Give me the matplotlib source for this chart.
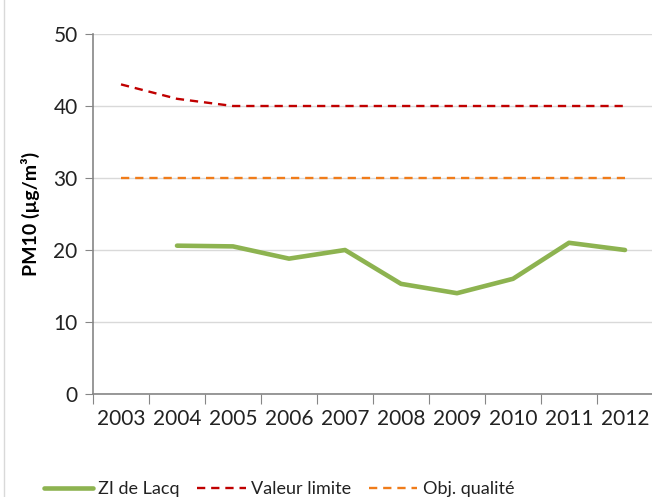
import matplotlib
matplotlib.use("Agg")
import matplotlib.pyplot as plt
from matplotlib.lines import Line2D

# data
years = ["2003", "2004", "2005", "2006", "2007", "2008", "2009", "2010", "2011", "2012"]
lacq = [None, 20.6, 20.5, 18.8, 20.0, 15.3, 14.0, 16.0, 21.0, 20.0]
valeur_limite = [43.0, 41.0, 40, 40, 40, 40, 40, 40, 40, 40]
obj_qualite = [30] * 10

plt.rcParams['font.family'] = ['Lato', 'DejaVu Sans']

fig = plt.figure(figsize=(6.52, 4.97), dpi=100)
ax = fig.add_axes([93/652, 1 - 394/497, 560/652, 360/497])

x = list(range(len(years)))
xl = [i for i, v in zip(x, lacq) if v is not None]
yl = [v for v in lacq if v is not None]

ax.plot(x, valeur_limite, color='#c00000', lw=1.7, ls=(0, (3.5, 2.5)), label='Valeur limite', zorder=3)
ax.plot(x, obj_qualite, color='#f07c1a', lw=1.7, ls=(0, (3.5, 2.5)), label='Obj. qualité', zorder=3)
ax.plot(xl, yl, color='#8db350', lw=3.3, label='ZI de Lacq', solid_capstyle='round', zorder=4)

ax.set_xlim(-0.5, len(years) - 0.5)
ax.set_ylim(0, 50)
ax.set_yticks([0, 10, 20, 30, 40, 50])
ax.set_xticks([i - 0.5 for i in range(len(years) + 1)])
ax.set_xticklabels([])
ax.set_xticks(x, minor=True)
ax.set_xticklabels(years, minor=True)
ax.tick_params(axis='x', which='minor', length=0, pad=11, labelsize=15, colors='#222222')
ax.tick_params(axis='x', which='major', length=7, color='#868686', direction='out')
ax.tick_params(axis='y', length=6, color='#868686', labelsize=15, colors='#222222', pad=5)
ax.grid(axis='y', color='#d9d9d9', lw=1)
ax.set_axisbelow(True)
for s in ['top', 'right']:
    ax.spines[s].set_visible(False)
for s in ['left', 'bottom']:
    ax.spines[s].set_color('#868686')
    ax.spines[s].set_linewidth(1.2)

ax.set_ylabel('PM10 (µg/m³)', fontsize=14, fontweight='bold', labelpad=10)

# legend at the bottom, in series order of the original
h = ax.get_legend_handles_labels()[0]
handles = [h[2], h[0], h[1]]
labels = ['ZI de Lacq', 'Valeur limite', 'Obj. qualité']
fig.legend(handles, labels, ncol=3, loc='center left', bbox_to_anchor=(28/652, 1 - 489/497),
           frameon=False, fontsize=13, handlelength=2.7, handletextpad=0.3, columnspacing=0.95,
           labelcolor='#222222')

# thin chart-area border on the left
fig.add_artist(Line2D([4/652, 4/652], [0, 1], transform=fig.transFigure, color='#d9d9d9', lw=1))

fig.savefig('out.png', dpi=100)
